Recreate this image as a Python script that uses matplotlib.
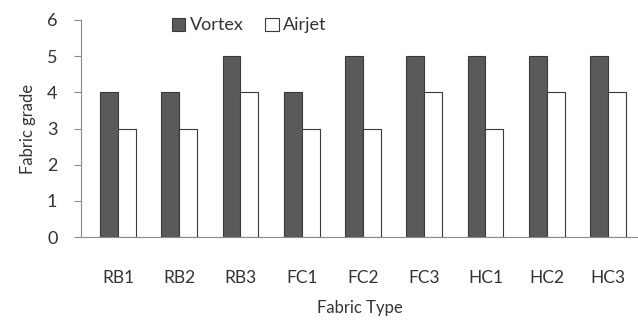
import numpy as np
import matplotlib.pyplot as plt

categories = ["RB1", "RB2", "RB3", "FC1", "FC2", "FC3", "HC1", "HC2", "HC3"]
vortex = [4, 4, 5, 4, 5, 5, 5, 5, 5]
airjet = [3, 3, 4, 3, 3, 4, 3, 4, 4]

plt.rcParams['font.family'] = ['Lato', 'DejaVu Sans']

fig = plt.figure(figsize=(6.38, 3.2), dpi=100)
ax = fig.add_axes([81 / 638, 1 - 237 / 320, 1 - 81 / 638, (237 - 20) / 320])

x = np.arange(len(categories))
w = 0.29
ax.bar(x - w / 2, vortex, w, color='#5a5a5a', edgecolor='#3a3a3a', linewidth=0.8, label='Vortex')
ax.bar(x + w / 2, airjet, w, color='white', edgecolor='#3a3a3a', linewidth=0.8, label='Airjet')

ax.set_xlim(-0.604, 8.49)
ax.set_ylim(0, 6)
ax.set_yticks(range(7))
ax.set_xticks(x)
ax.set_xticklabels(categories)

for s in ['top', 'right']:
    ax.spines[s].set_visible(False)
ax.spines['left'].set_color('#8a8a8a')
ax.spines['bottom'].set_color('#8a8a8a')
ax.tick_params(axis='x', length=0, pad=24, labelsize=12.5, labelcolor='#333333')
ax.tick_params(axis='y', length=5, color='#8a8a8a', labelsize=13, labelcolor='#333333', pad=12)

ax.set_xlabel("Fabric Type", fontsize=12, color='#333333', labelpad=10)
ax.set_ylabel("Fabric grade", fontsize=12, color='#333333', labelpad=8)

ax.legend(loc='upper left', bbox_to_anchor=(0.14, 1.07), ncol=2, frameon=False,
          fontsize=13, handlelength=0.75, handleheight=0.75, handletextpad=0.25,
          columnspacing=1.2, labelcolor='#333333', borderpad=0.2)

fig.savefig("out.png", dpi=100)
